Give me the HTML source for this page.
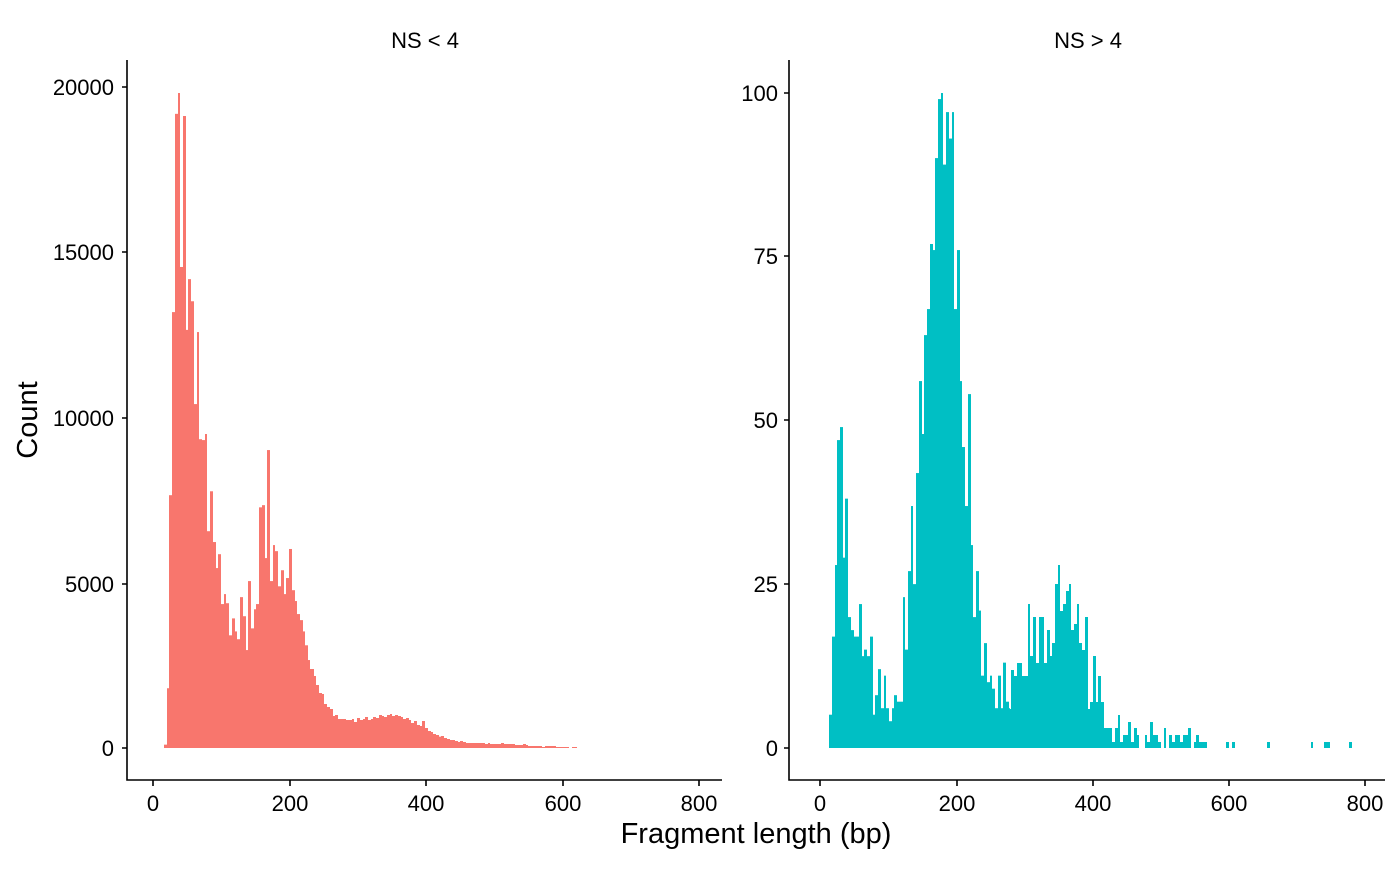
<!DOCTYPE html>
<html><head><meta charset="utf-8"><style>
body{margin:0;background:#fff;}
svg text{font-family:"Liberation Sans",Arial,sans-serif;fill:#000;}
</style></head><body>
<svg id="s" width="1400" height="865" xmlns="http://www.w3.org/2000/svg">
<g id="bars"></g>
<g stroke="#000" stroke-width="1.6" fill="none">
<path d="M127,60V780H722"/>
<path d="M789,60V780H1385"/>
<path d="M122,748H127M122,584H127M122,418H127M122,252H127M122,87H127"/>
<path d="M153,780V786M290,780V786M426,780V786M563,780V786M699,780V786"/>
<path d="M784,748H789M784,584H789M784,420H789M784,256H789M784,93H789"/>
<path d="M820,780V786M957,780V786M1093,780V786M1229,780V786M1365,780V786"/>
</g>
<g font-size="22" text-anchor="end">
<text x="114" y="756">0</text><text x="114" y="592">5000</text><text x="114" y="426">10000</text><text x="114" y="260">15000</text><text x="114" y="95">20000</text>
<text x="778" y="756">0</text><text x="778" y="592">25</text><text x="778" y="428">50</text><text x="778" y="264">75</text><text x="778" y="101">100</text>
</g>
<g font-size="22" text-anchor="middle">
<text x="153" y="811">0</text><text x="290" y="811">200</text><text x="426" y="811">400</text><text x="563" y="811">600</text><text x="699" y="811">800</text>
<text x="820" y="811">0</text><text x="957" y="811">200</text><text x="1093" y="811">400</text><text x="1229" y="811">600</text><text x="1365" y="811">800</text>
<text x="425" y="48">NS &lt; 4</text><text x="1088" y="48">NS &gt; 4</text>
</g>
<text x="756" y="843" font-size="29" text-anchor="middle">Fragment length (bp)</text>
<text transform="translate(37,420) rotate(-90)" font-size="29" text-anchor="middle">Count</text>
</svg>
<script>
var g=document.getElementById('bars'),B=748;
function draw(list,col,endx){
 for(var i=0;i<list.length;i++){
  var x=list[i][0],y=list[i][1],nx=i+1<list.length?list[i+1][0]:endx;
  if(y>=B||y==null)continue;
  var r=document.createElementNS('http://www.w3.org/2000/svg','rect');
  r.setAttribute('x',x);r.setAttribute('y',y);r.setAttribute('width',nx-x);r.setAttribute('height',B-y);r.setAttribute('fill',col);
  g.appendChild(r);
 }
}
function z1(a,ox,oy,sx,sy,lo,hi){var o=[];for(var i=0;i<a.length;i+=2){var x=ox+a[i]/sx;if(x<lo||x>=hi)continue;o.push([x,a[i+1]==null?999:oy+a[i+1]/sy]);}return o;}
var L1=[42,1532,51,1402,57,957,66,535,75,78,84,30,90,431,99,83,108,576,114,459,123,510,132,747,141,581,147,828,156,830,165,816,171,1040,180,948,189,1065,198,1125,204,1093,213,1208,222,1185,228,1206,237,1280,246,1241,255,1271,261,1289,270,1192,279,1236,288,1314,294,1155,303,1264,312,1220,318,1208,327,985,336,980,345,1102,351,853,360,1155,369,1072,375,1086,384,1167,393,1130,402,1185,408,1148,417,1081,426,1176,435,1201,441,1231,450,1245,459,1271,465,1303,474,1337];
var L2=[30,267,42,288,48,315,57,339,66,342,72,372,81,381,90,387,99,408,105,405,114,417,138,420,156,417,162,426,171,414,180,420,189,417,195,411,204,420,213,417,219,411,228,414,237,405,246,408,252,411,261,405,270,402,276,408,285,405,294,408,303,411,309,417,318,414,327,420,333,429,342,423,351,435,360,438,366,423,375,444,384,453,393,456,399,462,408,465,417,470,423,468,432,474,441,477,450,480,465,483,474,486,480,483,489,486,498,489,555,492,564,489,570,492,603,489,612,492,645,495,669,492,678,495,684,498,726,501,735,498,768,501,807,null,816,501];
var left=z1(L1,150,80,3,2.305,0,310).concat(z1(L2,300,580,3,3,310,2000));
draw(left,'#F8766D',577);
var R1=[27,1463,36,1283,45,1118,51,830,60,800,69,1101,75,965,84,1238,93,1268,102,1283,117,1208,126,1328,132,1313,141,1328,150,1283,159,1463,165,1418,174,1358,183,1448,192,1373,198,1448,207,1478,216,1448,222,1418,231,1433,249,1192,255,1313,264,1132,273,982,279,1162,288,906,297,694,306,816,312,588,321,528,330,378,339,392,345,180,354,44,363,30,369,195,378,74,387,135,396,74,402,528,411,392,420,694,426,846,435,982,444,724,453,1072,459,1238,468,1132,477,1223,483,1373,492,1298,501,1388,510,1373,516,1403,525,1448,534,1373,543,1448,549,1343,558,1433,567,1448];
var R2=[0,507,3,390,12,408,21,369,36,408,54,192,60,348,69,231,78,369,87,231,102,369,111,270,120,348,126,309,135,132,144,75,150,213,159,192,168,153,177,132,183,270,192,252,201,192,207,309,216,330,225,231,234,507,240,486,249,348,258,486,264,408,273,486,282,564,306,606,315,564,324,525,330,606,339,585,354,546,363,606,372,564,381,585,387,null,405,585,411,606,420,546,429,585,444,606,453,null,462,564,468,null,477,585,486,606,495,585,510,606,519,585,534,564,543,null,552,606,558,585,567,606,576,null,576,606,591,null,648,606,657,null,666,606,675,null,771,606,780,null,903,606,909,null,942,606,960,null,1017,606,1026,null];
var right=z1(R1,820,80,3,2.305,0,1010).concat(z1(R2,1010,540,3,3,1010,2000));
draw(right,'#00BFC4',1352);
</script>
</body></html>
